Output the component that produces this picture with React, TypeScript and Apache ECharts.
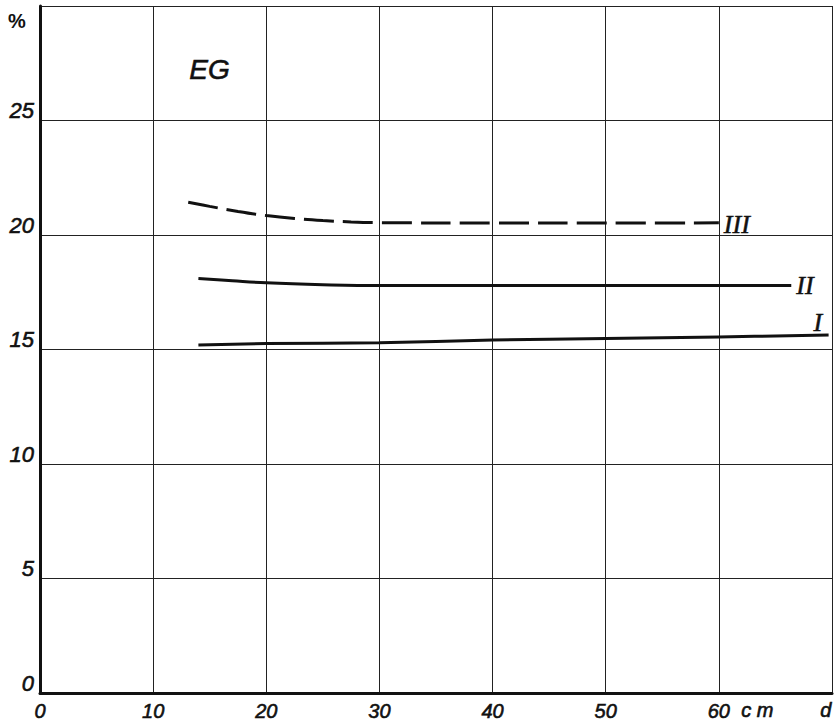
import React, { useEffect, useRef } from "react";
import * as echarts from "echarts";

const xTicks = [0, 10, 20, 30, 40, 50, 60, 70];
const yTicks = [0, 5, 10, 15, 20, 25, 30];

const seriesIII: [number, number][] = [
  [13.1, 21.43], [15, 21.25], [17.5, 21.03], [20, 20.85], [22.5, 20.72],
  [25, 20.63], [27.5, 20.57], [30, 20.54], [40, 20.52], [50, 20.52], [60, 20.53],
];
const seriesII: [number, number][] = [
  [14, 18.1], [17, 18.0], [20, 17.91], [25, 17.83], [30, 17.79],
  [40, 17.79], [50, 17.8], [60, 17.8], [66.4, 17.8],
];
const seriesI: [number, number][] = [
  [14, 15.2], [20, 15.26], [30, 15.3], [40, 15.41], [50, 15.48], [60, 15.55], [69.7, 15.63],
];

const INK = "#111";

export default function App() {
  const ref = useRef<HTMLDivElement>(null);
  useEffect(() => {
    if (!ref.current) return;
    const chart = echarts.init(ref.current, undefined, { renderer: "svg" });
    const tickFont = {
      fontFamily: "Liberation Sans",
      fontStyle: "italic" as const,
      color: INK,
      textBorderColor: INK,
      textBorderWidth: 0.6,
    };
    const roman = (dx: number, dy: number) => ({
      show: true,
      formatter: "{a}",
      fontFamily: "Liberation Serif",
      fontStyle: "italic" as const,
      fontSize: 26,
      color: INK,
      textBorderColor: INK,
      textBorderWidth: 0.5,
      distance: 5,
      offset: [dx, dy],
    });
    const annot = {
      fontFamily: "Liberation Sans",
      fontStyle: "italic",
      fill: INK,
      stroke: INK,
      lineWidth: 0.6,
    };
    chart.setOption({
      animation: false,
      backgroundColor: "#fff",
      grid: { left: 40, right: 2, top: 6, bottom: 30, containLabel: false },
      xAxis: {
        type: "value",
        min: xTicks[0],
        max: xTicks[xTicks.length - 1],
        interval: 10,
        axisLine: { show: true, lineStyle: { color: INK, width: 3 } },
        axisTick: { show: false },
        splitLine: { show: true, lineStyle: { color: "#222", width: 1 } },
        axisLabel: {
          ...tickFont,
          fontSize: 20,
          margin: 8,
          showMaxLabel: false,
          formatter: (v: number) => (xTicks.includes(v) && v !== 70 ? String(v) : ""),
        },
      },
      yAxis: {
        type: "value",
        min: yTicks[0],
        max: yTicks[yTicks.length - 1],
        interval: 5,
        axisLine: { show: true, lineStyle: { color: INK, width: 3 } },
        axisTick: { show: false },
        splitLine: { show: true, lineStyle: { color: "#222", width: 1 } },
        axisLabel: {
          ...tickFont,
          fontSize: 22,
          margin: 6,
          verticalAlign: "bottom",
          lineHeight: 20,
          showMaxLabel: false,
          formatter: (v: number) => (v === 30 ? "" : String(v)),
        },
      },
      graphic: [
        { type: "text", left: 8, top: 11, style: { text: "%", fontFamily: "Liberation Sans", fontSize: 20, fontWeight: "bold", fill: INK } },
        { type: "text", left: 189, top: 55, style: { ...annot, text: "EG", fontSize: 28 } },
        { type: "text", left: 741, top: 700, style: { ...annot, text: "c m", fontSize: 20 } },
        { type: "text", left: 820, top: 700, style: { ...annot, text: "d", fontSize: 20 } },
      ],
      series: [
        {
          name: "III",
          type: "line",
          data: seriesIII,
          smooth: 0.4,
          symbol: "none",
          lineStyle: { color: INK, width: 3, type: [30, 9] },
          endLabel: roman(0, 2),
        },
        {
          name: "II",
          type: "line",
          data: seriesII,
          smooth: 0.4,
          symbol: "none",
          lineStyle: { color: INK, width: 3 },
          endLabel: roman(0, 0),
        },
        {
          name: "I",
          type: "line",
          data: seriesI,
          smooth: 0.4,
          symbol: "none",
          lineStyle: { color: INK, width: 3 },
          endLabel: roman(-20, -13),
        },
      ],
    });
    return () => chart.dispose();
  }, []);
  return <div ref={ref} style={{ width: 834, height: 723, position: "absolute", left: 0, top: 0 }} />;
}
